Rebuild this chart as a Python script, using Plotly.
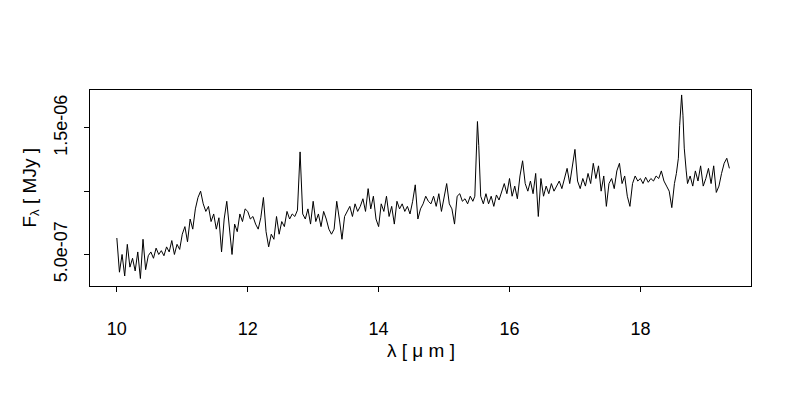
import plotly.graph_objects as go
import numpy as np

wavelength = [
    10.00, 10.04, 10.08, 10.12, 10.16, 10.20, 10.24, 10.28, 10.32, 10.36, 10.40, 10.44, 10.48,
    10.52, 10.56, 10.60, 10.64, 10.68, 10.72, 10.76, 10.80, 10.84, 10.88, 10.92, 10.96, 11.00,
    11.04, 11.08, 11.12, 11.16, 11.20, 11.24, 11.28,
    11.32, 11.36, 11.40, 11.44, 11.48, 11.52, 11.56, 11.60, 11.64, 11.68, 11.72, 11.76, 11.80, 11.84, 11.88, 11.92, 11.96,
    12.00, 12.04, 12.08, 12.12, 12.16, 12.20, 12.24, 12.28, 12.32, 12.36, 12.40,
    12.44, 12.48, 12.52, 12.56, 12.60, 12.64, 12.68, 12.72, 12.76, 12.78, 12.80, 12.84,
    12.88, 12.92, 12.96, 13.00, 13.04, 13.08, 13.12, 13.16, 13.20, 13.24, 13.28, 13.32,
    13.36, 13.40, 13.44, 13.48, 13.52, 13.56, 13.60, 13.64, 13.68,
    13.72, 13.76, 13.80, 13.84, 13.88, 13.92, 13.96, 14.00, 14.04, 14.08, 14.12, 14.16, 14.20, 14.24, 14.28, 14.32, 14.36, 14.40,
    14.44, 14.48, 14.52, 14.56, 14.60, 14.64, 14.68, 14.72, 14.76,
    14.80, 14.84, 14.88, 14.92, 14.96, 15.00, 15.04, 15.08, 15.12, 15.16, 15.20, 15.24, 15.28, 15.32, 15.36, 15.40,
    15.44, 15.47, 15.49, 15.51, 15.53, 15.56, 15.60,
    15.64, 15.68, 15.72, 15.76, 15.80, 15.84, 15.88, 15.92, 15.96, 16.00,
    16.04, 16.08, 16.12, 16.16, 16.20, 16.24, 16.28, 16.32, 16.36, 16.40,
    16.44, 16.48, 16.52, 16.56, 16.60, 16.64, 16.68, 16.72, 16.76, 16.80, 16.84, 16.88, 16.92, 16.96, 17.00,
    17.04, 17.08, 17.12, 17.16, 17.20, 17.24, 17.28, 17.32, 17.36, 17.40, 17.44, 17.48, 17.52, 17.56, 17.60, 17.64, 17.68, 17.72, 17.76, 17.80, 17.84,
    17.88, 17.92, 17.96, 18.00, 18.04, 18.08, 18.12, 18.16, 18.20, 18.24, 18.28, 18.32, 18.36, 18.40, 18.44, 18.48, 18.52,
    18.55, 18.58, 18.60, 18.63, 18.65, 18.67, 18.70,
    18.72, 18.76, 18.80, 18.84, 18.88, 18.92, 18.96, 19.00, 19.04, 19.08, 19.12, 19.16, 19.20, 19.24, 19.28, 19.32, 19.36,
]

# flux in units of 1e-6 MJy
flux_e6 = [
    0.63, 0.36, 0.50, 0.33, 0.58, 0.40, 0.47, 0.37, 0.52, 0.31, 0.62, 0.38, 0.49,
    0.52, 0.47, 0.55, 0.50, 0.53, 0.49, 0.56, 0.52, 0.61, 0.50, 0.58, 0.54, 0.66,
    0.72, 0.60, 0.78, 0.70, 0.86, 0.95, 1.00,
    0.90, 0.84, 0.88, 0.76, 0.82, 0.70, 0.79, 0.52, 0.78, 0.92, 0.72, 0.50, 0.74, 0.68, 0.82, 0.76, 0.86,
    0.84, 0.78, 0.80, 0.74, 0.70, 0.79, 0.95, 0.68, 0.56, 0.66, 0.62,
    0.80, 0.66, 0.76, 0.72, 0.84, 0.78, 0.82, 0.80, 0.85, 1.14, 1.31, 0.82,
    0.78, 0.86, 0.74, 0.92, 0.76, 0.82, 0.72, 0.84, 0.78, 0.70, 0.66, 0.70,
    0.92, 0.78, 0.62, 0.80, 0.84, 0.88, 0.80, 0.90, 0.84,
    0.88, 0.94, 0.84, 1.02, 0.86, 0.96, 0.78, 0.72, 0.90, 0.84, 0.96, 0.80, 0.88, 0.74, 0.92, 0.86, 0.90, 0.84,
    0.88, 0.82, 0.92, 1.05, 0.78, 0.86, 0.90, 0.96, 0.92,
    0.90, 0.96, 0.88, 0.98, 0.84, 0.94, 1.06, 0.90, 0.86, 0.74, 0.96, 0.98, 0.92, 0.94, 0.90, 0.96,
    0.92, 0.96, 1.30, 1.55, 1.36, 0.96, 0.90,
    0.98, 0.90, 0.96, 0.88, 0.97, 0.93, 0.99, 1.06, 0.98, 1.10,
    0.96, 1.04, 0.94, 1.12, 1.24, 1.06, 1.00, 1.08, 0.98, 1.14,
    0.80, 1.10, 0.96, 1.04, 0.98, 1.06, 1.00, 1.04, 1.08, 1.02, 1.10, 1.18, 1.06, 1.20, 1.33,
    1.08, 1.02, 1.10, 1.04, 1.14, 1.06, 1.22, 1.10, 1.20, 1.00, 1.12, 0.88, 1.06, 1.10, 1.02, 1.16, 1.22, 1.06, 1.12, 0.96, 0.88,
    1.06, 1.12, 1.08, 1.10, 1.06, 1.11, 1.07, 1.10, 1.08, 1.12, 1.10, 1.16, 1.08, 1.04, 1.00, 0.87, 1.06,
    1.14, 1.26, 1.52, 1.76, 1.60, 1.34, 1.16,
    1.06, 1.12, 1.04, 1.16, 1.08, 1.20, 1.04, 1.10, 1.18, 1.06, 1.20, 0.99, 1.04, 1.14, 1.22, 1.26, 1.18,
]

ytick_vals = [5.0e-07, 1.5e-06]
ytick_text = ["5.0e-07", "1.5e-06"]
ytick_unlabeled = [1.0e-06]
xtick_vals = [10, 12, 14, 16, 18]

flux = np.array(flux_e6) * 1e-6

FONT = "Liberation Sans"

fig = go.Figure()
fig.add_trace(go.Scatter(
    x=wavelength, y=flux, mode="lines",
    line=dict(color="black", width=1),
    hoverinfo="skip", showlegend=False,
))

# page body has an 8px margin, so the figure is 792x392 and placed 8px in
fig.update_layout(
    width=792, height=392,
    paper_bgcolor="white", plot_bgcolor="white",
    margin=dict(l=82, r=49, t=82, b=114),
    font=dict(family=FONT, size=18, color="black"),
    showlegend=False,
)

fig.update_xaxes(
    range=[9.59, 19.69],
    tickvals=xtick_vals,
    ticks="outside", ticklen=5, tickcolor="black",
    showline=True, linecolor="black", linewidth=1, mirror=True,
    showgrid=False, zeroline=False,
    ticklabelstandoff=21,
    tickfont=dict(family=FONT, size=18, color="black"),
    automargin=False,
)
fig.update_yaxes(
    range=[0.251e-6, 1.799e-6],
    tickvals=ytick_vals, ticktext=ytick_text,
    tickangle=-90,
    ticks="outside", ticklen=5, tickcolor="black",
    minor=dict(tickvals=ytick_unlabeled, ticks="outside", ticklen=5, tickcolor="black", showgrid=False),
    showline=True, linecolor="black", linewidth=1, mirror=True,
    showgrid=False, zeroline=False,
    ticklabelstandoff=10,
    tickfont=dict(family=FONT, size=18, color="black"),
    automargin=False,
)

fig.add_annotation(
    text="λ [ μ m ]", xref="paper", yref="paper",
    x=0.5, y=-0.33, xanchor="center", yanchor="middle",
    showarrow=False, font=dict(family=FONT, size=19, color="black"),
)
fig.add_annotation(
    text="F<sub>λ</sub> [ MJy ]", xref="paper", yref="paper",
    x=-0.09, y=0.5, xanchor="center", yanchor="middle", textangle=-90,
    showarrow=False, font=dict(family=FONT, size=19, color="black"),
)

fig.write_html("out.html")
